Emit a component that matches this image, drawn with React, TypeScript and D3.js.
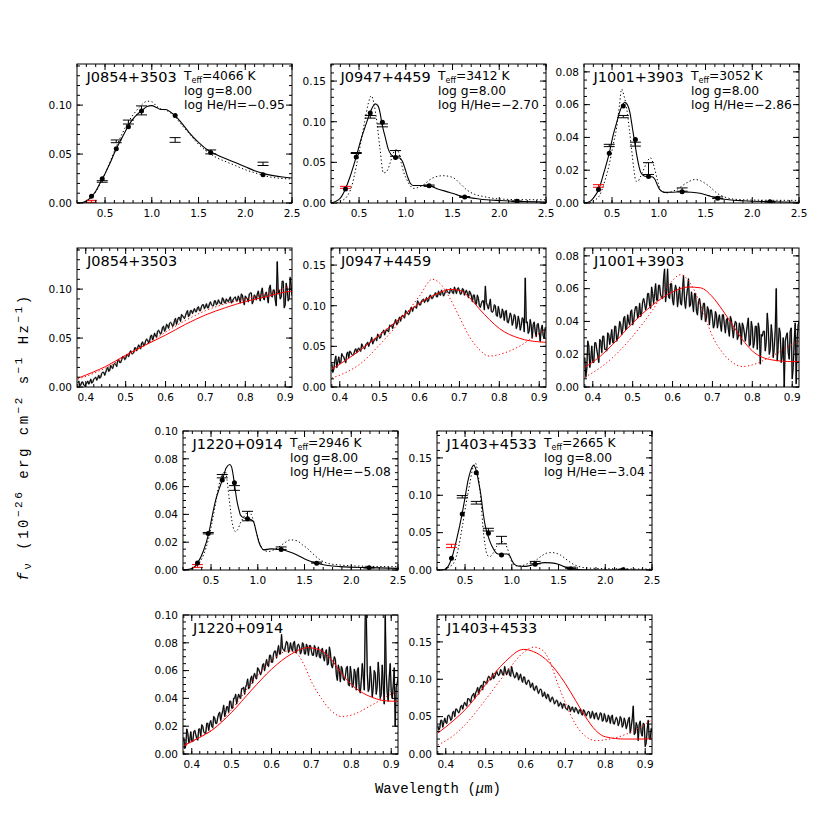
import React from "react";
import * as d3 from "d3";

// ---------------- DATA ----------------
const bandWave = [0.355, 0.47, 0.62, 0.75, 0.89, 1.25, 1.63, 2.19];

const photXTicks = [0.5, 1.0, 1.5, 2.0, 2.5];
const photXTickLabels = ["0.5", "1.0", "1.5", "2.0", "2.5"];
const specXTicks = [0.4, 0.5, 0.6, 0.7, 0.8, 0.9];
const specXTickLabels = ["0.4", "0.5", "0.6", "0.7", "0.8", "0.9"];

const names = ["J0854+3503", "J0947+4459", "J1001+3903", "J1220+0914", "J1403+4533"];
const teffs = ["4066", "3412", "3052", "2946", "2665"];
const loggs = ["8.00", "8.00", "8.00", "8.00", "8.00"];
const abundances = ["log He/H=\u22120.95", "log H/He=\u22122.70", "log H/He=\u22122.86", "log H/He=\u22125.08", "log H/He=\u22123.04"];
const yMaxes = [0.142, 0.171, 0.0848, 0.1, 0.186];
const yTickSets = [
  [0, 0.05, 0.1],
  [0, 0.05, 0.1, 0.15],
  [0, 0.02, 0.04, 0.06, 0.08],
  [0, 0.02, 0.04, 0.06, 0.08, 0.1],
  [0, 0.05, 0.1, 0.15],
];
const yTickLabelSets = [
  ["0.00", "0.05", "0.10"],
  ["0.00", "0.05", "0.10", "0.15"],
  ["0.00", "0.02", "0.04", "0.06", "0.08"],
  ["0.00", "0.02", "0.04", "0.06", "0.08", "0.10"],
  ["0.00", "0.05", "0.10", "0.15"],
];
const yMinorSteps = [0.01, 0.01, 0.005, 0.005, 0.01];

// synthetic (model) photometry: filled circles
const j0854Model = [0.0068, 0.0247, 0.0553, 0.078, 0.0939, 0.0895, 0.0515, 0.0288];
const j0947Model = [0.0172, 0.0566, 0.1107, 0.0992, 0.0561, 0.0213, 0.0074, 0.002];
const j1001Model = [0.0082, 0.0304, 0.0592, 0.0388, 0.0161, 0.0069, 0.0029, 0.0008];
const j1220Model = [0.0051, 0.0263, 0.0648, 0.0627, 0.0369, 0.0147, 0.0048, 0.0017];
const j1403Model = [0.0157, 0.0748, 0.13, 0.0493, 0.0202, 0.0076, 0.0013, 0.0003];

// observed photometry and errors
const j0854Obs = [0.0017, 0.022, 0.063, 0.0827, 0.0946, 0.0644, 0.0522, 0.04];
const j0854Err = [0.001, 0.0008, 0.0014, 0.002, 0.0046, 0.0024, 0.002, 0.0017];
const j0947Obs = [0.0193, 0.0615, 0.106, 0.0955, 0.061, 0.0213, 0.0074, 0.002];
const j0947Err = [0.0012, 0.0006, 0.0016, 0.0018, 0.0035, 0.0008, 0.0005, 0.0004];
const j1001Obs = [0.0104, 0.0351, 0.0527, 0.0359, 0.021, 0.0082, 0.0032, 0.0008];
const j1001Err = [0.0008, 0.0007, 0.0007, 0.0012, 0.0036, 0.001, 0.0005, 0.0003];
const j1220Obs = [0.0029, 0.0265, 0.0675, 0.059, 0.0388, 0.0157, 0.0053, 0.0017];
const j1220Err = [0.001, 0.0005, 0.0012, 0.0017, 0.0034, 0.0009, 0.0004, 0.0003];
const j1403Obs = [0.0322, 0.098, 0.09, 0.054, 0.04, 0.0099, 0.003, 0.0005];
const j1403Err = [0.0022, 0.0016, 0.0018, 0.0018, 0.005, 0.0016, 0.0008, 0.0005];

// model SEDs (best fit solid, alternative dotted)
const j0854PhotSolid = [[0.2,0],[0.25,0.0003],[0.3,0.002],[0.35,0.006],[0.4,0.012],[0.45,0.021],[0.5,0.03],[0.55,0.04],[0.6,0.051],[0.65,0.061],[0.7,0.07],[0.75,0.079],[0.8,0.086],[0.85,0.091],[0.9,0.095],[0.95,0.0985],[1.0,0.0995],[1.05,0.0975],[1.1,0.0955],[1.15,0.0955],[1.2,0.093],[1.25,0.089],[1.3,0.084],[1.35,0.078],[1.4,0.072],[1.5,0.062],[1.6,0.054],[1.7,0.049],[1.8,0.045],[1.9,0.041],[2.0,0.037],[2.1,0.033],[2.2,0.03],[2.3,0.028],[2.4,0.0265],[2.5,0.0255]];
const j0854PhotDotted = [[0.2,0],[0.25,0.0002],[0.3,0.0015],[0.35,0.005],[0.4,0.011],[0.45,0.02],[0.5,0.03],[0.55,0.041],[0.6,0.053],[0.65,0.064],[0.7,0.074],[0.75,0.083],[0.8,0.09],[0.85,0.096],[0.9,0.101],[0.95,0.104],[1.0,0.1035],[1.05,0.099],[1.1,0.096],[1.15,0.095],[1.2,0.092],[1.25,0.088],[1.3,0.082],[1.4,0.071],[1.5,0.06],[1.6,0.052],[1.7,0.046],[1.8,0.042],[1.9,0.038],[2.0,0.034],[2.1,0.031],[2.2,0.028],[2.3,0.026],[2.4,0.025],[2.5,0.0245]];
const j0947PhotSolid = [[0.2,0],[0.25,0.002],[0.3,0.006],[0.353,0.017],[0.4,0.031],[0.47,0.057],[0.52,0.078],[0.566,0.094],[0.612,0.109],[0.645,0.118],[0.672,0.122],[0.7,0.12],[0.725,0.111],[0.743,0.099],[0.76,0.09],[0.78,0.081],[0.814,0.066],[0.84,0.06],[0.867,0.0574],[0.9,0.056],[0.938,0.0553],[0.965,0.051],[0.99,0.043],[1.02,0.032],[1.045,0.025],[1.08,0.0215],[1.15,0.0215],[1.24,0.0213],[1.35,0.017],[1.47,0.013],[1.55,0.01],[1.63,0.0074],[1.75,0.0055],[1.86,0.004],[2.0,0.003],[2.19,0.002],[2.5,0.0012]];
const j0947PhotDotted = [[0.26,0],[0.3,0.002],[0.37,0.008],[0.42,0.02],[0.47,0.045],[0.52,0.075],[0.56,0.1],[0.6,0.123],[0.63,0.132],[0.66,0.122],[0.69,0.1],[0.725,0.066],[0.76,0.037],[0.79,0.038],[0.814,0.043],[0.84,0.052],[0.867,0.0615],[0.9,0.0656],[0.925,0.062],[0.95,0.05],[0.98,0.037],[1.01,0.029],[1.05,0.021],[1.08,0.018],[1.13,0.019],[1.19,0.0225],[1.29,0.031],[1.4,0.0336],[1.51,0.031],[1.58,0.024],[1.65,0.0164],[1.73,0.011],[1.83,0.008],[2.0,0.005],[2.2,0.0042],[2.5,0.004]];
const j1001PhotSolid = [[0.2,0],[0.264,0.001],[0.3,0.003],[0.357,0.0082],[0.41,0.018],[0.47,0.0304],[0.51,0.041],[0.549,0.049],[0.59,0.057],[0.637,0.0615],[0.665,0.06],[0.69,0.0555],[0.72,0.045],[0.748,0.035],[0.765,0.029],[0.78,0.0245],[0.805,0.019],[0.834,0.0168],[0.87,0.0162],[0.905,0.0162],[0.935,0.0158],[0.958,0.0145],[0.985,0.011],[1.01,0.0082],[1.04,0.0068],[1.065,0.0065],[1.15,0.0066],[1.247,0.0068],[1.35,0.0066],[1.44,0.006],[1.53,0.0045],[1.63,0.0029],[1.75,0.002],[1.9,0.0014],[2.2,0.0008],[2.5,0.0004]];
const j1001PhotDotted = [[0.26,0],[0.3,0.0012],[0.371,0.0051],[0.42,0.013],[0.47,0.0235],[0.51,0.035],[0.549,0.046],[0.58,0.06],[0.602,0.0695],[0.625,0.066],[0.656,0.058],[0.685,0.045],[0.709,0.0327],[0.735,0.02],[0.755,0.0133],[0.78,0.0135],[0.8,0.0155],[0.835,0.02],[0.87,0.0245],[0.91,0.0276],[0.935,0.025],[0.958,0.0204],[0.985,0.014],[1.01,0.0092],[1.045,0.0068],[1.08,0.0061],[1.13,0.0068],[1.19,0.0082],[1.296,0.0122],[1.385,0.0143],[1.45,0.0135],[1.49,0.0122],[1.56,0.0092],[1.62,0.0061],[1.7,0.0038],[1.795,0.0024],[2.0,0.0018],[2.5,0.0016]];
const j1220PhotSolid = [[0.2,0],[0.278,0.0007],[0.32,0.002],[0.357,0.0051],[0.42,0.014],[0.475,0.0263],[0.51,0.038],[0.546,0.0494],[0.585,0.058],[0.621,0.0648],[0.663,0.0735],[0.7,0.0759],[0.72,0.074],[0.735,0.069],[0.753,0.0605],[0.778,0.0494],[0.8,0.043],[0.813,0.0398],[0.85,0.0375],[0.895,0.0368],[0.93,0.0362],[0.956,0.0345],[0.985,0.027],[1.01,0.0205],[1.035,0.0165],[1.063,0.0145],[1.134,0.0152],[1.2,0.015],[1.252,0.0147],[1.35,0.0128],[1.42,0.0108],[1.527,0.0072],[1.634,0.0048],[1.75,0.0032],[1.883,0.0024],[2.2,0.0017],[2.5,0.0012]];
const j1220PhotDotted = [[0.243,0],[0.3,0.0012],[0.357,0.0036],[0.42,0.011],[0.475,0.0229],[0.51,0.034],[0.546,0.047],[0.575,0.058],[0.6,0.065],[0.625,0.0695],[0.653,0.0706],[0.67,0.065],[0.689,0.0542],[0.705,0.045],[0.724,0.035],[0.745,0.029],[0.76,0.0277],[0.785,0.029],[0.813,0.0337],[0.84,0.037],[0.867,0.0398],[0.903,0.0422],[0.93,0.04],[0.956,0.0349],[0.99,0.026],[1.027,0.018],[1.07,0.014],[1.116,0.0133],[1.16,0.0142],[1.206,0.0157],[1.28,0.0192],[1.348,0.0217],[1.42,0.021],[1.48,0.018],[1.527,0.0157],[1.6,0.011],[1.67,0.0072],[1.75,0.0048],[1.883,0.0036],[2.1,0.0028],[2.5,0.0024]];
const j1403PhotSolid = [[0.2,0],[0.26,0],[0.3,0.002],[0.357,0.0157],[0.41,0.041],[0.468,0.0748],[0.5,0.097],[0.53,0.1187],[0.56,0.133],[0.593,0.14],[0.62,0.133],[0.645,0.118],[0.67,0.1],[0.69,0.08],[0.715,0.06],[0.745,0.046],[0.77,0.037],[0.8,0.029],[0.825,0.024],[0.853,0.0215],[0.89,0.0212],[0.925,0.0215],[0.95,0.0215],[0.978,0.019],[1.005,0.012],[1.032,0.0072],[1.08,0.005],[1.14,0.0048],[1.247,0.0075],[1.354,0.0099],[1.42,0.0095],[1.497,0.0078],[1.56,0.0045],[1.636,0.0015],[1.75,0.0004],[1.97,0],[2.5,0]];
const j1403PhotDotted = [[0.28,0],[0.33,0.004],[0.386,0.011],[0.43,0.03],[0.468,0.056],[0.51,0.088],[0.55,0.115],[0.585,0.137],[0.61,0.143],[0.635,0.132],[0.657,0.11],[0.675,0.085],[0.69,0.06],[0.715,0.033],[0.737,0.02],[0.765,0.018],[0.8,0.0224],[0.84,0.032],[0.87,0.0358],[0.906,0.038],[0.93,0.035],[0.953,0.029],[0.985,0.016],[1.014,0.0075],[1.06,0.0055],[1.104,0.0058],[1.17,0.0085],[1.247,0.012],[1.31,0.018],[1.37,0.0224],[1.43,0.0233],[1.52,0.02],[1.58,0.0145],[1.64,0.009],[1.71,0.005],[1.785,0.003],[2.0,0.0018],[2.5,0.0013]];

const specStart = 0.38;
const specStep = 0.0025;
const j0854Spec = [
  0.004,0.006,0.001,0.002,0.005,0.005,0.002,0.001,0.003,0.004,0.006,0.003,0.005,0.008,0.004,0.005,0.008,0.009,0.010,0.007,
  0.009,0.012,0.009,0.010,0.014,0.015,0.015,0.012,0.015,0.018,0.020,0.016,0.017,0.022,0.020,0.019,0.023,0.024,0.023,0.021,
  0.027,0.028,0.025,0.025,0.028,0.031,0.031,0.028,0.029,0.033,0.033,0.031,0.035,0.037,0.034,0.034,0.035,0.040,0.040,0.037,
  0.040,0.043,0.041,0.039,0.045,0.046,0.042,0.043,0.047,0.049,0.048,0.045,0.047,0.052,0.053,0.048,0.051,0.055,0.052,0.051,
  0.057,0.058,0.056,0.054,0.056,0.061,0.062,0.057,0.059,0.064,0.063,0.060,0.065,0.066,0.065,0.062,0.063,0.068,0.070,0.064,
  0.068,0.071,0.071,0.067,0.074,0.073,0.071,0.070,0.073,0.076,0.078,0.072,0.073,0.078,0.078,0.075,0.078,0.080,0.077,0.077,
  0.081,0.082,0.078,0.078,0.082,0.084,0.084,0.080,0.082,0.085,0.081,0.081,0.085,0.087,0.084,0.083,0.083,0.088,0.088,0.084,
  0.085,0.089,0.087,0.085,0.085,0.091,0.090,0.086,0.086,0.090,0.088,0.087,0.090,0.092,0.086,0.087,0.090,0.091,0.092,0.088,
  0.088,0.093,0.090,0.086,0.095,0.094,0.088,0.084,0.093,0.091,0.090,0.087,0.095,0.096,0.096,0.085,0.088,0.094,0.093,0.089,
  0.095,0.098,0.092,0.088,0.097,0.101,0.091,0.089,0.095,0.097,0.092,0.086,0.101,0.104,0.093,0.092,0.099,0.099,0.089,0.083,
  0.128,0.095,0.099,0.090,0.092,0.108,0.108,0.081,0.084,0.106,0.099,0.088,0.091,0.112,0.102,0.093];
const j0947Spec = [
  0.029,0.018,0.022,0.032,0.038,0.024,0.031,0.037,0.029,0.030,0.041,0.038,0.037,0.033,0.030,0.041,0.043,0.036,0.044,0.043,
  0.040,0.039,0.040,0.045,0.047,0.042,0.046,0.048,0.045,0.044,0.053,0.050,0.048,0.047,0.052,0.053,0.055,0.050,0.054,0.056,
  0.061,0.053,0.056,0.059,0.060,0.057,0.065,0.063,0.060,0.061,0.067,0.067,0.070,0.064,0.068,0.071,0.069,0.068,0.076,0.075,
  0.076,0.072,0.077,0.079,0.083,0.077,0.078,0.083,0.086,0.081,0.087,0.088,0.086,0.085,0.094,0.092,0.091,0.089,0.091,0.096,
  0.098,0.093,0.098,0.099,0.098,0.097,0.106,0.104,0.101,0.101,0.106,0.107,0.108,0.104,0.107,0.110,0.105,0.106,0.112,0.113,
  0.109,0.109,0.112,0.114,0.116,0.111,0.111,0.118,0.114,0.113,0.119,0.117,0.112,0.114,0.118,0.120,0.117,0.116,0.115,0.121,
  0.120,0.116,0.115,0.123,0.119,0.115,0.121,0.122,0.118,0.114,0.115,0.121,0.120,0.113,0.117,0.119,0.115,0.110,0.118,0.116,
  0.112,0.105,0.113,0.113,0.103,0.102,0.113,0.109,0.100,0.098,0.103,0.106,0.106,0.095,0.124,0.104,0.100,0.096,0.102,0.108,
  0.093,0.092,0.094,0.101,0.100,0.088,0.087,0.099,0.093,0.085,0.086,0.096,0.092,0.082,0.093,0.094,0.080,0.079,0.085,0.091,
  0.087,0.076,0.081,0.089,0.087,0.072,0.076,0.087,0.081,0.070,0.076,0.085,0.084,0.068,0.134,0.079,0.080,0.066,0.069,0.083,
  0.075,0.060,0.077,0.080,0.068,0.062,0.077,0.078,0.067,0.056,0.071,0.076,0.063,0.060,0.073,0.072];
const j1001Spec = [
  0.018,0.006,0.011,0.028,0.025,0.012,0.017,0.025,0.015,0.015,0.027,0.027,0.023,0.019,0.015,0.029,0.028,0.021,0.031,0.031,
  0.023,0.023,0.022,0.033,0.032,0.026,0.030,0.035,0.027,0.027,0.037,0.037,0.028,0.030,0.034,0.040,0.038,0.032,0.035,0.042,
  0.043,0.035,0.036,0.044,0.040,0.038,0.046,0.047,0.038,0.040,0.046,0.049,0.049,0.042,0.044,0.051,0.043,0.045,0.052,0.054,
  0.051,0.047,0.050,0.057,0.057,0.050,0.048,0.061,0.057,0.051,0.057,0.063,0.053,0.053,0.062,0.062,0.056,0.055,0.054,0.066,
  0.072,0.052,0.058,0.072,0.055,0.054,0.063,0.063,0.053,0.050,0.058,0.062,0.059,0.049,0.055,0.061,0.051,0.050,0.059,0.068,
  0.053,0.048,0.055,0.060,0.066,0.049,0.050,0.058,0.052,0.046,0.057,0.057,0.046,0.044,0.052,0.054,0.050,0.041,0.046,0.051,
  0.051,0.040,0.042,0.049,0.047,0.038,0.047,0.047,0.042,0.036,0.038,0.046,0.044,0.036,0.041,0.044,0.038,0.034,0.044,0.044,
  0.038,0.033,0.041,0.042,0.035,0.031,0.043,0.041,0.035,0.030,0.037,0.040,0.039,0.029,0.031,0.039,0.036,0.026,0.039,0.037,
  0.033,0.028,0.033,0.038,0.042,0.025,0.026,0.040,0.036,0.024,0.027,0.037,0.037,0.023,0.039,0.035,0.014,0.032,0.031,0.034,
  0.034,0.022,0.028,0.045,0.036,0.020,0.023,0.038,0.031,0.018,0.024,0.035,0.060,0.016,0.026,0.036,0.033,0.015,0.019,0.030,
  0.000,0.028,0.031,0.033,0.021,0.017,0.034,0.036,0.005,0.012,0.028,0.039,0.002,0.030,0.038,0.040];
const j1220Spec = [
  0.012,0.004,0.006,0.018,0.015,0.008,0.010,0.016,0.009,0.009,0.016,0.017,0.014,0.011,0.010,0.018,0.018,0.013,0.021,0.020,
  0.016,0.015,0.015,0.022,0.022,0.017,0.022,0.024,0.020,0.019,0.027,0.026,0.022,0.022,0.026,0.029,0.030,0.024,0.028,0.031,
  0.035,0.027,0.030,0.034,0.034,0.030,0.038,0.038,0.033,0.033,0.040,0.040,0.043,0.036,0.040,0.043,0.041,0.040,0.047,0.047,
  0.048,0.043,0.048,0.050,0.054,0.047,0.048,0.054,0.056,0.051,0.056,0.058,0.055,0.054,0.062,0.061,0.059,0.057,0.059,0.064,
  0.065,0.060,0.064,0.068,0.064,0.063,0.071,0.071,0.066,0.066,0.072,0.074,0.074,0.069,0.074,0.078,0.072,0.072,0.086,0.076,
  0.075,0.074,0.078,0.081,0.080,0.073,0.075,0.080,0.076,0.074,0.080,0.081,0.073,0.073,0.078,0.079,0.077,0.072,0.074,0.080,
  0.079,0.072,0.072,0.079,0.077,0.071,0.078,0.078,0.074,0.071,0.071,0.078,0.076,0.070,0.073,0.077,0.070,0.069,0.075,0.076,
  0.070,0.067,0.073,0.075,0.064,0.065,0.077,0.073,0.064,0.062,0.066,0.070,0.068,0.057,0.053,0.064,0.060,0.052,0.063,0.061,
  0.054,0.053,0.056,0.062,0.063,0.050,0.049,0.063,0.057,0.048,0.050,0.061,0.058,0.046,0.060,0.062,0.046,0.044,0.053,0.065,
  0.056,0.046,0.100,0.100,0.058,0.045,0.047,0.063,0.054,0.041,0.048,0.060,0.058,0.043,0.049,0.066,0.055,0.040,0.043,0.064,
  0.050,0.036,0.100,0.058,0.044,0.038,0.055,0.065,0.045,0.040,0.049,0.062,0.020,0.048,0.051,0.055];
const j1403Spec = [
  0.038,0.032,0.035,0.045,0.045,0.036,0.042,0.048,0.042,0.041,0.051,0.052,0.050,0.045,0.047,0.056,0.057,0.050,0.060,0.060,
  0.057,0.055,0.058,0.064,0.065,0.060,0.066,0.069,0.066,0.064,0.074,0.074,0.072,0.069,0.077,0.079,0.081,0.074,0.082,0.085,
  0.089,0.080,0.087,0.091,0.092,0.086,0.097,0.097,0.095,0.094,0.101,0.104,0.103,0.099,0.101,0.108,0.101,0.103,0.107,0.111,
  0.107,0.105,0.107,0.113,0.111,0.106,0.106,0.117,0.111,0.106,0.110,0.114,0.106,0.104,0.117,0.111,0.106,0.102,0.103,0.109,
  0.107,0.099,0.103,0.107,0.100,0.096,0.103,0.103,0.095,0.093,0.097,0.099,0.096,0.089,0.092,0.095,0.087,0.085,0.090,0.091,
  0.085,0.081,0.085,0.087,0.085,0.077,0.078,0.083,0.077,0.074,0.080,0.079,0.072,0.070,0.075,0.076,0.072,0.067,0.069,0.072,
  0.071,0.064,0.065,0.069,0.067,0.061,0.067,0.067,0.062,0.060,0.059,0.065,0.063,0.057,0.061,0.063,0.058,0.056,0.062,0.061,
  0.057,0.054,0.059,0.060,0.054,0.052,0.059,0.058,0.053,0.051,0.055,0.057,0.056,0.048,0.050,0.057,0.053,0.047,0.054,0.055,
  0.049,0.046,0.050,0.055,0.054,0.044,0.045,0.054,0.050,0.043,0.044,0.052,0.049,0.041,0.050,0.052,0.041,0.040,0.045,0.049,
  0.046,0.038,0.042,0.050,0.047,0.036,0.039,0.048,0.043,0.034,0.039,0.046,0.049,0.028,0.037,0.047,0.064,0.026,0.028,0.042,
  0.037,0.018,0.040,0.044,0.028,0.024,0.041,0.040,0.010,0.015,0.033,0.045,0.021,0.020,0.034,0.030];

// model spectra (red): solid = adopted fit, dotted = alternative
const j0854SpecSolid = [[0.38,0.009],[0.42,0.0155],[0.45,0.021],[0.5,0.0325],[0.55,0.043],[0.6,0.053],[0.65,0.064],[0.7,0.0736],[0.75,0.081],[0.8,0.0873],[0.85,0.092],[0.9,0.097],[0.917,0.098]];
const j0854SpecDotted = [[0.38,0.008],[0.42,0.014],[0.45,0.0195],[0.5,0.031],[0.55,0.043],[0.6,0.056],[0.65,0.068],[0.7,0.078],[0.75,0.085],[0.8,0.09],[0.85,0.095],[0.9,0.101],[0.917,0.104]];
const j0947SpecSolid = [[0.38,0.022],[0.4,0.028],[0.45,0.045],[0.5,0.064],[0.55,0.084],[0.6,0.103],[0.65,0.116],[0.675,0.12],[0.7,0.119],[0.725,0.11],[0.75,0.096],[0.775,0.083],[0.8,0.072],[0.85,0.06],[0.9,0.0555],[0.917,0.055]];
const j0947SpecDotted = [[0.38,0.011],[0.42,0.019],[0.45,0.028],[0.5,0.052],[0.55,0.08],[0.6,0.112],[0.632,0.1325],[0.65,0.128],[0.675,0.11],[0.7,0.086],[0.725,0.062],[0.75,0.046],[0.775,0.038],[0.8,0.04],[0.85,0.05],[0.9,0.066],[0.917,0.07]];
const j1001SpecSolid = [[0.38,0.012],[0.42,0.019],[0.45,0.026],[0.5,0.039],[0.55,0.05],[0.6,0.058],[0.64,0.061],[0.67,0.0605],[0.7,0.055],[0.725,0.047],[0.75,0.038],[0.775,0.029],[0.8,0.022],[0.85,0.0165],[0.9,0.0155],[0.917,0.0155]];
const j1001SpecDotted = [[0.38,0.006],[0.42,0.012],[0.45,0.018],[0.5,0.031],[0.55,0.047],[0.59,0.062],[0.62,0.0685],[0.65,0.061],[0.675,0.047],[0.7,0.031],[0.725,0.021],[0.75,0.015],[0.775,0.0125],[0.8,0.0135],[0.85,0.019],[0.9,0.026],[0.917,0.028]];
const j1220SpecSolid = [[0.38,0.006],[0.42,0.012],[0.45,0.017],[0.5,0.03],[0.55,0.046],[0.6,0.061],[0.65,0.072],[0.69,0.0765],[0.72,0.075],[0.75,0.068],[0.775,0.058],[0.8,0.05],[0.85,0.041],[0.9,0.038],[0.917,0.038]];
const j1220SpecDotted = [[0.38,0.006],[0.42,0.012],[0.45,0.017],[0.5,0.032],[0.55,0.051],[0.6,0.067],[0.64,0.074],[0.66,0.073],[0.68,0.065],[0.7,0.052],[0.725,0.04],[0.75,0.031],[0.775,0.027],[0.8,0.028],[0.85,0.035],[0.9,0.043],[0.917,0.045]];
const j1403SpecSolid = [[0.38,0.028],[0.42,0.045],[0.45,0.06],[0.5,0.093],[0.55,0.124],[0.595,0.14],[0.62,0.137],[0.65,0.127],[0.7,0.094],[0.725,0.072],[0.75,0.05],[0.775,0.032],[0.8,0.023],[0.85,0.02],[0.9,0.02],[0.917,0.021]];
const j1403SpecDotted = [[0.38,0.012],[0.42,0.025],[0.45,0.04],[0.5,0.073],[0.55,0.108],[0.6,0.138],[0.62,0.143],[0.64,0.14],[0.66,0.125],[0.68,0.095],[0.7,0.068],[0.725,0.04],[0.75,0.024],[0.775,0.018],[0.8,0.019],[0.85,0.026],[0.9,0.04],[0.917,0.046]];

const models = [j0854Model, j0947Model, j1001Model, j1220Model, j1403Model];
const observed = [j0854Obs, j0947Obs, j1001Obs, j1220Obs, j1403Obs];
const errors = [j0854Err, j0947Err, j1001Err, j1220Err, j1403Err];
const photSolids = [j0854PhotSolid, j0947PhotSolid, j1001PhotSolid, j1220PhotSolid, j1403PhotSolid];
const photDotteds = [j0854PhotDotted, j0947PhotDotted, j1001PhotDotted, j1220PhotDotted, j1403PhotDotted];
const spectra = [j0854Spec, j0947Spec, j1001Spec, j1220Spec, j1403Spec];
const specSolids = [j0854SpecSolid, j0947SpecSolid, j1001SpecSolid, j1220SpecSolid, j1403SpecSolid];
const specDotteds = [j0854SpecDotted, j0947SpecDotted, j1001SpecDotted, j1220SpecDotted, j1403SpecDotted];

// ---------------- LAYOUT ----------------
const PW = 215;
const PH = 139;
const photPos = [[77, 64], [331, 64], [584, 64], [183, 431], [437, 431]];
const specPos = [[77, 248], [331, 248], [584, 248], [183, 615], [437, 615]];
const photDomain = [0.2, 2.5];
const specDomain = [0.378, 0.917];
const FONT = "DejaVu Sans, sans-serif";
const MONO = "Liberation Mono, monospace";
const RED = "#ff0000";

function Axes({ x, y, xTicks, xLabels, xMinor, yTicks, yLabels, yMinor }) {
  const [x0, x1] = x.range();
  const [yb, yt] = y.range();
  const M = 6, m = 3;
  return (
    <g stroke="#000" strokeWidth={1}>
      {xMinor.map((v, i) => (
        <g key={"xm" + i}>
          <line x1={x(v)} x2={x(v)} y1={yb} y2={yb - m} />
          <line x1={x(v)} x2={x(v)} y1={yt} y2={yt + m} />
        </g>
      ))}
      {xTicks.map((v, i) => (
        <g key={"xM" + i}>
          <line x1={x(v)} x2={x(v)} y1={yb} y2={yb - M} />
          <line x1={x(v)} x2={x(v)} y1={yt} y2={yt + M} />
        </g>
      ))}
      {yMinor.map((v, i) => (
        <g key={"ym" + i}>
          <line x1={x0} x2={x0 + m} y1={y(v)} y2={y(v)} />
          <line x1={x1} x2={x1 - m} y1={y(v)} y2={y(v)} />
        </g>
      ))}
      {yTicks.map((v, i) => (
        <g key={"yM" + i}>
          <line x1={x0} x2={x0 + M} y1={y(v)} y2={y(v)} />
          <line x1={x1} x2={x1 - M} y1={y(v)} y2={y(v)} />
        </g>
      ))}
      <rect x={x0} y={yt} width={x1 - x0} height={yb - yt} fill="none" />
      <g stroke="none" fill="#000" fontFamily={FONT} fontSize={10.5}>
        {xTicks.map((v, i) => (
          <text key={"xl" + i} x={x(v)} y={yb + 13.5} textAnchor="middle">{xLabels[i]}</text>
        ))}
        {yTicks.map((v, i) => (
          <text key={"yl" + i} x={x0 - 5} y={y(v) + 3.8} textAnchor="end">{yLabels[i]}</text>
        ))}
      </g>
    </g>
  );
}

function PhotPanel({ k }) {
  const [left, top] = photPos[k];
  const x = d3.scaleLinear().domain(photDomain).range([left, left + PW]);
  const y = d3.scaleLinear().domain([0, yMaxes[k]]).range([top + PH, top]);
  const line = d3.line().x((d) => x(d[0])).y((d) => y(d[1])).curve(d3.curveMonotoneX);
  const xMinor = d3.range(0.2, 2.5001, 0.1);
  const yMinor = d3.range(0, yMaxes[k], yMinorSteps[k]);
  const clip = "clipP" + k;
  const ax = left + 107;
  return (
    <g>
      <defs>
        <clipPath id={clip}><rect x={left} y={top} width={PW} height={PH} /></clipPath>
      </defs>
      <g clipPath={`url(#${clip})`} fill="none">
        <path d={line(photDotteds[k])} stroke="#000" strokeWidth={1} strokeDasharray="1.3 2.4" />
        <path d={line(photSolids[k])} stroke="#000" strokeWidth={1.1} />
        {bandWave.map((w, i) => {
          const c = i === 0 ? RED : "#000";
          const yl = y(observed[k][i] - errors[k][i]);
          const yh = y(observed[k][i] + errors[k][i]);
          return (
            <g key={"e" + i} stroke={c} strokeWidth={1}>
              <line x1={x(w)} x2={x(w)} y1={yl} y2={yh} />
              <line x1={x(w) - 5.5} x2={x(w) + 5.5} y1={yl} y2={yl} />
              <line x1={x(w) - 5.5} x2={x(w) + 5.5} y1={yh} y2={yh} />
            </g>
          );
        })}
        {bandWave.map((w, i) => (
          <circle key={"m" + i} cx={x(w)} cy={y(models[k][i])} r={2.5} fill="#000" stroke="none" />
        ))}
      </g>
      <Axes x={x} y={y} xTicks={photXTicks} xLabels={photXTickLabels} xMinor={xMinor}
        yTicks={yTickSets[k]} yLabels={yTickLabelSets[k]} yMinor={yMinor} />
      <text x={left + 9.5} y={top + 18.3} fontFamily={FONT} fontSize={14.5}>{names[k]}</text>
      <g fontFamily={FONT} fontSize={12.3}>
        <text x={ax} y={top + 16}>
          <tspan>T</tspan>
          <tspan fontSize={8} dy={3}>eff</tspan>
          <tspan dy={-3}>{"=" + teffs[k] + " K"}</tspan>
        </text>
        <text x={ax} y={top + 30.5}>{"log g=" + loggs[k]}</text>
        <text x={ax} y={top + 45}>{abundances[k]}</text>
      </g>
    </g>
  );
}

function SpecPanel({ k }) {
  const [left, top] = specPos[k];
  const x = d3.scaleLinear().domain(specDomain).range([left, left + PW]);
  const y = d3.scaleLinear().domain([0, yMaxes[k]]).range([top + PH, top]);
  const smooth = d3.line().x((d) => x(d[0])).y((d) => y(d[1])).curve(d3.curveMonotoneX);
  const raw = d3.line().x((d, i) => x(specStart + specStep * i)).y((d) => y(d));
  const xMinor = d3.range(0.38, 0.9171, 0.02);
  const yMinor = d3.range(0, yMaxes[k], yMinorSteps[k]);
  const clip = "clipS" + k;
  return (
    <g>
      <defs>
        <clipPath id={clip}><rect x={left} y={top} width={PW} height={PH} /></clipPath>
      </defs>
      <g clipPath={`url(#${clip})`} fill="none">
        <path d={raw(spectra[k])} stroke="#8a8a8a" strokeWidth={1.6} strokeLinejoin="round" />
        <path d={raw(spectra[k])} stroke="#000" strokeWidth={1} strokeLinejoin="round" />
        <path d={smooth(specDotteds[k])} stroke={RED} strokeWidth={1} strokeDasharray="1.3 2.4" />
        <path d={smooth(specSolids[k])} stroke={RED} strokeWidth={1} />
      </g>
      <Axes x={x} y={y} xTicks={specXTicks} xLabels={specXTickLabels} xMinor={xMinor}
        yTicks={yTickSets[k]} yLabels={yTickLabelSets[k]} yMinor={yMinor} />
      <text x={left + 10} y={top + 17.5} fontFamily={FONT} fontSize={14.5}>{names[k]}</text>
    </g>
  );
}

export default function App() {
  const ids = [0, 1, 2, 3, 4];
  return (
    <svg width={830} height={830} style={{ position: "absolute", left: 0, top: 0, background: "#fff" }}>
      <rect x={0} y={0} width={830} height={830} fill="#fff" />
      {ids.map((k) => <PhotPanel key={"p" + k} k={k} />)}
      {ids.map((k) => <SpecPanel key={"s" + k} k={k} />)}
      <text x={438} y={793} textAnchor="middle" fontFamily={MONO} fontSize={14}>
        Wavelength (<tspan fontStyle="italic">μ</tspan>m)
      </text>
      <text transform="translate(28,437) rotate(-90)" textAnchor="middle" fontFamily={MONO} fontSize={14} letterSpacing={2.5}>
        <tspan fontStyle="italic">f</tspan>
        <tspan fontSize={11} dy={3}>ν</tspan>
        <tspan dy={-3}>{" (10"}</tspan>
        <tspan fontSize={11} dy={-6}>{"\u221226"}</tspan>
        <tspan dy={6}>{" erg cm"}</tspan>
        <tspan fontSize={11} dy={-6}>{"\u22122"}</tspan>
        <tspan dy={6}>{" s"}</tspan>
        <tspan fontSize={11} dy={-6}>{"\u22121"}</tspan>
        <tspan dy={6}>{" Hz"}</tspan>
        <tspan fontSize={11} dy={-6}>{"\u22121"}</tspan>
        <tspan dy={6}>{")"}</tspan>
      </text>
    </svg>
  );
}
